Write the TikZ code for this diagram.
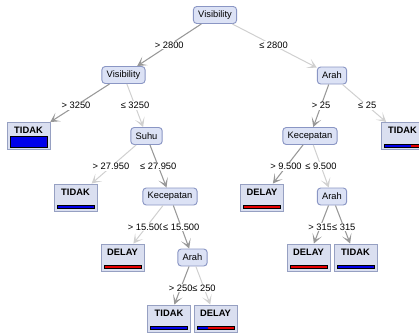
\documentclass[tikz,border=0pt]{standalone}
\usepackage{fontspec}
\setmainfont{Liberation Sans}
\usetikzlibrary{arrows.meta,calc}
\definecolor{splitfill}{RGB}{220,226,245}
\definecolor{splitline}{RGB}{138,150,196}
\definecolor{leaffill}{RGB}{218,223,240}
\definecolor{leafline}{RGB}{150,160,194}
\definecolor{darkedge}{RGB}{152,152,152}
\definecolor{lightedge}{RGB}{208,208,208}
\definecolor{tblue}{RGB}{0,0,235}
\definecolor{dred}{RGB}{230,0,0}
\tikzset{
  split/.style={draw=splitline,fill=splitfill,rounded corners=2.5pt,line width=0.7pt,
    inner xsep=3.6pt,inner ysep=0pt,minimum height=12.75pt,font=\fontsize{7}{8}\selectfont},
  leaf/.style={draw=leafline,fill=leaffill,line width=0.7pt,minimum width=32.25pt,
    inner sep=0pt,text height=8.25pt,text depth=12pt,font=\fontsize{7}{8}\selectfont\bfseries},
  heavy/.style={draw=darkedge,line width=0.8pt,-{Stealth[length=7pt,width=7.5pt,inset=4pt]}},
  light/.style={draw=lightedge,line width=0.75pt,-{Stealth[length=7pt,width=7.5pt,inset=4pt]}},
  cond/.style={fill=white,inner sep=0.6pt,font=\fontsize{7}{8}\selectfont},
  bar/.style={draw=black,line width=0.5pt}
}
\newcommand\leafbar[3]{%
  \coordinate (#1a) at ($(#1.south west)+(3.5,-3)$);
  \coordinate (#1b) at ($(#1.south east)+(-3.5,-3-#3)$);
  \coordinate (#1m) at ($(#1a)!#2!(#1b)$);
  \fill[tblue] (#1a) rectangle (#1m |- #1b);
  \fill[dred] (#1m |- #1a) rectangle (#1b);
  \draw[bar] (#1a) rectangle (#1b);
}
\begin{document}
\begin{tikzpicture}[x=0.75pt,y=-0.75pt]
  \useasboundingbox (0,0) rectangle (419,333);
  \node[split] (root) at (215,15) {Visibility};
  \node[split] (vis) at (123.5,75) {Visibility};
  \node[split] (arahA) at (332,75.5) {Arah};
  \node[split] (suhu) at (146.5,136) {Suhu};
  \node[split] (kecA) at (310,136) {Kecepatan};
  \node[split] (kecB) at (170,196.5) {Kecepatan};
  \node[split] (arahB) at (332,196.5) {Arah};
  \node[split] (arahC) at (192.5,257.5) {Arah};
  \node[leaf] (t1) at (28.5,136) {TIDAK};
  \node[leaf] (t2) at (402.5,136) {TIDAK};
  \node[leaf] (t3) at (75.5,197.5) {TIDAK};
  \node[leaf] (d4) at (262,197.5) {DELAY};
  \node[leaf] (d5) at (122.5,257.5) {DELAY};
  \node[leaf] (d6) at (308.5,257.5) {DELAY};
  \node[leaf] (t7) at (355.5,257.5) {TIDAK};
  \node[leaf] (t8) at (169,318.5) {TIDAK};
  \node[leaf] (d9) at (215.5,318.5) {DELAY};
  \leafbar{t1}{1}{11}
  \leafbar{t2}{0.73}{3}
  \leafbar{t3}{1}{3}
  \leafbar{d4}{0}{3}
  \leafbar{d5}{0}{3}
  \leafbar{d6}{0}{3}
  \leafbar{t7}{1}{3}
  \leafbar{t8}{1}{3}
  \leafbar{d9}{0.3}{3}
  \foreach \a/\b/\s/\t in {root/vis/heavy/{> 2800},root/arahA/light/{≤ 2800},
      vis/t1/heavy/{> 3250},vis/suhu/light/{≤ 3250},
      arahA/kecA/heavy/{> 25},arahA/t2/light/{≤ 25},
      suhu/t3/light/{> 27.950},suhu/kecB/heavy/{≤ 27.950},
      kecA/d4/heavy/{> 9.500},kecA/arahB/light/{≤ 9.500},
      kecB/d5/light/{> 15.500},kecB/arahC/heavy/{≤ 15.500},
      arahB/d6/heavy/{> 315},arahB/t7/heavy/{≤ 315},
      arahC/t8/heavy/{> 250},arahC/d9/light/{≤ 250}}
    \draw[\s] (\a) -- (\b);
  \foreach \a/\b/\t in {root/vis/{> 2800},root/arahA/{≤ 2800},
      vis/t1/{> 3250},vis/suhu/{≤ 3250},
      arahA/kecA/{> 25},arahA/t2/{≤ 25},
      suhu/t3/{> 27.950},suhu/kecB/{≤ 27.950},
      kecA/d4/{> 9.500},kecA/arahB/{≤ 9.500},
      kecB/d5/{> 15.500},kecB/arahC/{≤ 15.500},
      arahB/d6/{> 315},arahB/t7/{≤ 315},
      arahC/t8/{> 250},arahC/d9/{≤ 250}}
    \node[cond] (c\a\b) at ($(\a)!.5!(\b)$) {\t};
\end{tikzpicture}
\end{document}
